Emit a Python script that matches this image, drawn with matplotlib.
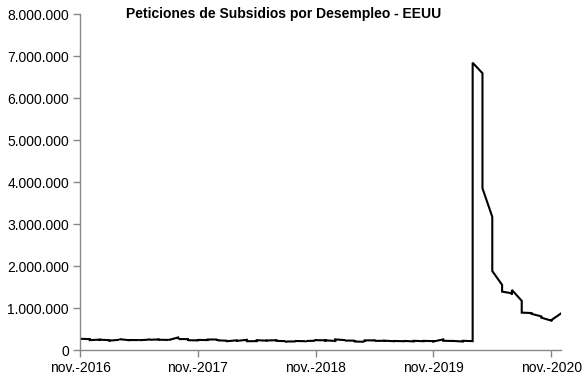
import numpy as np
import matplotlib
matplotlib.use("Agg")
import matplotlib.pyplot as plt
from matplotlib.ticker import FuncFormatter, MultipleLocator

plt.rcParams['font.family'] = ['Liberation Sans', 'DejaVu Sans']

# Weekly initial jobless claims (thousands), grouped by month (Excel-style monthly date axis)
claims_2016 = [  # nov, dec
    [254, 235, 251, 268],
    [258, 254, 275, 265, 235],
]
claims_2017 = [
    [247, 234, 259, 246],
    [234, 239, 244, 223],
    [243, 241, 261, 258],
    [234, 244, 257, 238],
    [236, 232, 233, 234],
    [245, 237, 241, 244],
    [250, 247, 233, 244, 244],
    [240, 232, 234, 236],
    [298, 284, 259, 272, 260],
    [260, 244, 222, 233],
    [229, 249, 239, 240],
    [236, 225, 245, 250],
]
claims_2018 = [
    [250, 261, 220, 233, 230],
    [221, 230, 222, 210],
    [231, 226, 229, 242, 218],
    [242, 233, 233, 209],
    [211, 222, 234, 234],
    [222, 231, 218, 218, 227],
    [232, 208, 217, 218],
    [212, 210, 210, 213, 203],
    [204, 201, 208, 214],
    [210, 215, 216, 214],
    [221, 216, 224, 234],
    [231, 206, 214, 220, 230],
]
claims_2019 = [
    [216, 213, 199, 253],
    [234, 239, 216, 225],
    [223, 229, 221, 211, 202],
    [196, 193, 230, 230],
    [228, 212, 215, 218],
    [218, 222, 216, 227, 222],
    [209, 216, 206, 215],
    [209, 220, 211, 215, 217],
    [204, 208, 213, 219],
    [209, 214, 213, 218],
    [211, 227, 228, 213, 203],
    [252, 234, 222, 220],
]
claims_2020 = [
    [214, 204, 211, 216],
    [202, 205, 211, 216, 219],
    [211, 282, 3307, 6840],
    [6590, 5237, 4442, 3850],
    [3170, 2687, 2446, 2123, 1880],
    [1550, 1510, 1480, 1390],
    [1350, 1310, 1430],
    [1170, 1000, 1100, 890],
    [880, 870, 880, 860],
    [800, 780, 790, 770],
    [700, 720, 690, 710],
    [870],
]

tick_labels = ["nov.-2016", "nov.-2017", "nov.-2018", "nov.-2019", "nov.-2020"]
tick_months = [0, 12, 24, 36, 48]

months = claims_2016 + claims_2017 + claims_2018 + claims_2019 + claims_2020
x = np.concatenate([[i] * len(m) for i, m in enumerate(months)])
y = np.concatenate([np.array(m, dtype=float) * 1000 for m in months])

fig = plt.figure(figsize=(5.88, 3.80), dpi=100)
ax = fig.add_axes([80 / 588, 1 - 350 / 380, (561 - 80) / 588, (350 - 14) / 380])

ax.plot(x, y, color='black', linewidth=1.5, solid_joinstyle='miter')

ax.set_xlim(0, len(months) - 1)
ax.set_ylim(0, 8_000_000)
ax.yaxis.set_major_locator(MultipleLocator(1_000_000))
ax.yaxis.set_major_formatter(FuncFormatter(lambda v, p: f"{int(v):,}".replace(",", ".")))
ax.set_xticks(tick_months)
ax.set_xticklabels(tick_labels)

for s in ['top', 'right']:
    ax.spines[s].set_visible(False)
for s in ['left', 'bottom']:
    ax.spines[s].set_color('#888888')
    ax.spines[s].set_linewidth(1.0)
ax.tick_params(axis='both', colors='#888888', labelcolor='black', labelsize=10,
               length=5, width=1.0, direction='out')
ax.tick_params(axis='x', pad=3)
ax.tick_params(axis='y', pad=3)

fig.text(284 / 588, 1 - 14 / 380, "Peticiones de Subsidios por Desempleo - EEUU",
         ha='center', va='center', fontsize=10, fontweight='bold')

fig.savefig("out.png", dpi=100)
